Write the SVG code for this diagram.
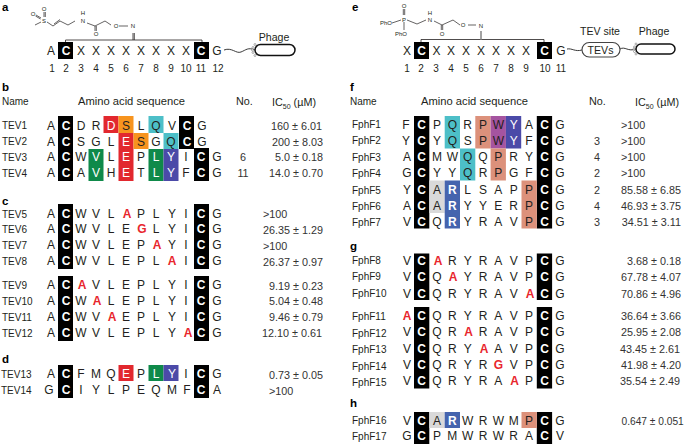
<svg xmlns="http://www.w3.org/2000/svg" width="685" height="444" viewBox="0 0 685 444">
<style>
text{font-family:"Liberation Sans",Arial,sans-serif;fill:#231f20}
.s{font-size:12px;text-anchor:middle}
.w{fill:#fff;font-weight:bold}
.wn{fill:#fff}
.r{fill:#e8262d;font-weight:bold}
.n{font-size:10px}
.h{font-size:10.8px}
.aa{font-size:11.2px}
.num{font-size:10px;text-anchor:middle}
.v{font-size:10.8px;text-anchor:end;fill:#333}
.vl{font-size:10.8px;fill:#333}
.no{font-size:10.8px;text-anchor:middle;fill:#333}
.p{font-size:11.5px;font-weight:bold;fill:#000}
.c{font-size:6px;text-anchor:middle}
.t{font-size:10.6px;text-anchor:middle}
.k{fill:#000}.red{fill:#e2282e}.org{fill:#f7941e}.cya{fill:#4dbfc8}.grn{fill:#0f8a4a}.blu{fill:#4b4aa8}.rb{fill:#4564ae}.sal{fill:#dc917b}.pur{fill:#a554a0}.gry{fill:#d9d9d9}
.l{fill:none;stroke:#231f20;stroke-width:.7}
.br{fill:none;stroke:#231f20;stroke-width:.8}
.cap{fill:#fff;stroke:#111;stroke-width:1.5}
.sq{fill:none;stroke:#222;stroke-width:.9}
.dot{fill:#fff;stroke:#777;stroke-width:.6}
</style>

<g id="connectors">
<path class="br" d="M65.500 42V40H202V42M133 40V33M134.300 40V33"/>
<path class="sq" d="M224 50C232 47 236 54 241 52S248 47 255 50"/>
<path class="br" d="M421 42V39.500H544V42"/>
<path d="M481 39.500V31" fill="none" stroke="#999" stroke-width="1.800"/>
<path class="sq" d="M567 49C572 48 575 52 582 50"/>
<path class="sq" d="M620 49C625 46 628 52 636 49"/>
</g>

<g id="panel-a">
<text class="p" x="2" y="10.500">a</text>
<g id="chem-a">
<path class="l" d="M35 25L41 22M36 15L41 18M35.500 16L40.500 19M44 12V17M45.300 12V17M47 22L53 26L60 21L68 25L75 21M87 23L95 26L105 21L111 25M95 26V31M96.300 26V31M119 26H128M54 24L60 19.500"/>
<text class="c" x="33" y="16">O</text><text class="c" x="44" y="10.500">O</text><text class="c" x="44" y="23">S</text>
<text class="c" x="83" y="15">H</text><text class="c" x="83" y="23">N</text><text class="c" x="96" y="36">O</text><text class="c" x="116" y="28">O</text><text class="c" x="133" y="28">N</text>
</g>
<rect class="k" x="58" y="42" width="15" height="17"/><rect class="k" x="194" y="42" width="15" height="17"/>
<text class="s" x="51 66 81 96 111 126 141 156 171 186 201 217" y="55">A<tspan class="w">C</tspan>XXXXXXXX<tspan class="w">C</tspan>G</text>
<g><text class="num" x="52" y="71.500">1</text><text class="num" x="66" y="71.500">2</text><text class="num" x="81" y="71.500">3</text><text class="num" x="96" y="71.500">4</text><text class="num" x="111" y="71.500">5</text><text class="num" x="126" y="71.500">6</text><text class="num" x="141" y="71.500">7</text><text class="num" x="156" y="71.500">8</text><text class="num" x="171" y="71.500">9</text><text class="num" x="186" y="71.500">10</text><text class="num" x="201" y="71.500">11</text><text class="num" x="218" y="71.500">12</text></g>
<g id="phage-a">
<rect class="cap" x="255" y="44.500" width="40" height="11" rx="5.500"/>
<circle class="dot" cx="255" cy="44.500" r="1"/><circle class="dot" cx="253" cy="47.500" r="1"/><circle class="dot" cx="252.500" cy="50" r="1"/><circle class="dot" cx="253" cy="52.500" r="1"/><circle class="dot" cx="255" cy="55.500" r="1"/>
<text class="t" x="274" y="41">Phage</text>
</g>
</g>

<g id="panel-b">
<text class="p" x="2" y="91">b</text>
<text class="n" x="2" y="105">Name</text><text class="aa" x="78" y="105">Amino acid sequence</text><text class="h" x="236" y="105">No.</text>
<text class="h" x="272" y="106">IC<tspan font-size="7" dy="2.500">50</tspan><tspan dy="-2.500"> (µM)</tspan></text>
<rect class="k" x="58" y="116" width="15" height="65"/><rect class="k" x="179" y="116" width="15" height="33"/><rect class="k" x="194" y="148" width="15" height="33"/>
<rect class="red" x="103.500" y="116" width="15" height="17"/><rect class="org" x="118.500" y="116" width="15" height="17"/><rect class="cya" x="148.500" y="116" width="15" height="17"/>
<rect class="red" x="118.500" y="133" width="15" height="16"/><rect class="org" x="133.500" y="133" width="15" height="16"/><rect class="cya" x="163.500" y="133" width="15" height="16"/>
<rect class="grn" x="88.500" y="149" width="15" height="32"/><rect class="red" x="118.500" y="149" width="15" height="32"/><rect class="grn" x="148.500" y="149" width="15" height="32"/><rect class="blu" x="163.500" y="149" width="15" height="32"/>
<g id="TEV1"><text class="n" x="2" y="129">TEV1</text><text class="s" x="51 66 81 96 111 126 141 156 172 187 202" y="129.500">A<tspan class="w">C</tspan>DR<tspan class="wn">D</tspan>SLQV<tspan class="w">C</tspan>G</text><text class="v" x="322" y="129.500">160 ± 6.01</text></g>
<g id="TEV2"><text class="n" x="2" y="145">TEV2</text><text class="s" x="51 66 81 96 111 126 141 156 171 187 202" y="145.500">A<tspan class="w">C</tspan>SGL<tspan class="wn">E</tspan>SGQ<tspan class="w">C</tspan>G</text><text class="v" x="323" y="145.500">200 ± 8.03</text></g>
<g id="TEV3"><text class="n" x="2" y="161">TEV3</text><text class="s" x="51 66 81 96 111 126 141 156 171 186 201 217" y="161">A<tspan class="w">C</tspan>W<tspan class="wn">V</tspan>L<tspan class="wn">E</tspan>P<tspan class="wn">LY</tspan>I<tspan class="w">C</tspan>G</text><text class="no" x="243" y="161">6</text><text class="v" x="323" y="161">5.0 ± 0.18</text></g>
<g id="TEV4"><text class="n" x="2" y="177">TEV4</text><text class="s" x="51 66 81 96 111 126 141 156 171 186 201 217" y="177">A<tspan class="w">C</tspan>A<tspan class="wn">V</tspan>H<tspan class="wn">E</tspan>T<tspan class="wn">LY</tspan>F<tspan class="w">C</tspan>G</text><text class="no" x="243" y="177">11</text><text class="v" x="323" y="177">14.0 ± 0.70</text></g>
</g>

<g id="panel-c">
<text class="p" x="2" y="205">c</text>
<rect class="k" x="58" y="204" width="15" height="65"/><rect class="k" x="194" y="204" width="15" height="65"/>
<rect class="k" x="58" y="276" width="15" height="65"/><rect class="k" x="194" y="276" width="15" height="65"/>
<g id="TEV5"><text class="n" x="2" y="217.500">TEV5</text><text class="s" x="51 66 81 96 111 127 141 156 172 186 201 217" y="217.500">A<tspan class="w">C</tspan>WVL<tspan class="r">A</tspan>PLYI<tspan class="w">C</tspan>G</text><text class="vl" x="263" y="217.500">&gt;100</text></g>
<g id="TEV6"><text class="n" x="2" y="233">TEV6</text><text class="s" x="51 66 81 96 111 126 142 156 172 186 201 217" y="233">A<tspan class="w">C</tspan>WVLE<tspan class="r">G</tspan>LYI<tspan class="w">C</tspan>G</text><text class="v" x="323" y="233.500">26.35 ± 1.29</text></g>
<g id="TEV7"><text class="n" x="2" y="249">TEV7</text><text class="s" x="51 66 81 96 111 126 141 157 172 186 201 217" y="249">A<tspan class="w">C</tspan>WVLEP<tspan class="r">A</tspan>YI<tspan class="w">C</tspan>G</text><text class="vl" x="263" y="249.500">&gt;100</text></g>
<g id="TEV8"><text class="n" x="2" y="265">TEV8</text><text class="s" x="51 66 81 96 111 126 141 156 172 186 201 217" y="265">A<tspan class="w">C</tspan>WVLEPL<tspan class="r">A</tspan>I<tspan class="w">C</tspan>G</text><text class="v" x="323" y="265.500">26.37 ± 0.97</text></g>
<g id="TEV9"><text class="n" x="2" y="289">TEV9</text><text class="s" x="51 66 82 96 111 126 141 156 172 186 201 217" y="289">A<tspan class="w">C</tspan><tspan class="r">A</tspan>VLEPLYI<tspan class="w">C</tspan>G</text><text class="v" x="323" y="289.500">9.19 ± 0.23</text></g>
<g id="TEV10"><text class="n" x="2" y="305">TEV10</text><text class="s" x="51 66 81 97 111 126 141 156 172 186 201 217" y="305">A<tspan class="w">C</tspan>W<tspan class="r">A</tspan>LEPLYI<tspan class="w">C</tspan>G</text><text class="v" x="323" y="305">5.04 ± 0.48</text></g>
<g id="TEV11"><text class="n" x="2" y="321">TEV11</text><text class="s" x="51 66 81 96 112 126 141 156 172 186 201 217" y="321">A<tspan class="w">C</tspan>WV<tspan class="r">A</tspan>EPLYI<tspan class="w">C</tspan>G</text><text class="v" x="323" y="321">9.46 ± 0.79</text></g>
<g id="TEV12"><text class="n" x="2" y="337">TEV12</text><text class="s" x="51 66 81 96 111 126 141 156 172 188 201 217" y="337">A<tspan class="w">C</tspan>WVLEPLY<tspan class="r">A</tspan><tspan class="w">C</tspan>G</text><text class="v" x="322" y="337">12.10 ± 0.61</text></g>
</g>

<g id="panel-d">
<text class="p" x="2" y="363">d</text>
<rect class="k" x="58" y="365" width="15" height="33"/><rect class="k" x="194" y="365" width="15" height="33"/>
<rect class="red" x="118.500" y="365" width="15" height="16"/><rect class="grn" x="148.500" y="365" width="15" height="16"/><rect class="blu" x="163.500" y="365" width="15" height="16"/>
<g id="TEV13"><text class="n" x="1" y="378">TEV13</text><text class="s" x="51 66 81 96 111 126 141 156 172 186 201 217" y="378">A<tspan class="w">C</tspan>FMQ<tspan class="wn">E</tspan>P<tspan class="wn">LY</tspan>I<tspan class="w">C</tspan>G</text><text class="v" x="323" y="378.500">0.73 ± 0.05</text></g>
<g id="TEV14"><text class="n" x="1" y="394">TEV14</text><text class="s" x="49 66 81 96 111 126 141 156 172 187 201 217" y="394">G<tspan class="w">C</tspan>IYLPEQMF<tspan class="w">C</tspan>A</text><text class="vl" x="269" y="394.500">&gt;100</text></g>
</g>

<g id="panel-e">
<text class="p" x="352" y="10.500">e</text>
<g id="chem-e">
<path class="l" d="M403.300 9V15M404.700 9V15M404 22V30M392 23L401 20M407 20L417 24L426 20M434 21L442 25L453 20L460 25M441.300 25V30M442.700 25V30M468 25H476"/>
<text class="c" x="404" y="8">O</text><text class="c" x="404" y="21.500">P</text><text class="c" x="386" y="25">PhO</text><text class="c" x="401" y="35.500">PhO</text>
<text class="c" x="430" y="15">H</text><text class="c" x="430" y="21.500">N</text><text class="c" x="442" y="35.500">O</text><text class="c" x="463" y="27">O</text><text class="c" x="481" y="28">N</text>
</g>
<rect class="k" x="414" y="42" width="15" height="17"/><rect class="k" x="537" y="42" width="15" height="17"/>
<text class="s" x="407 421.500 436.500 451 466 481 496 511 526 544.500 561" y="54.500">X<tspan class="w">C</tspan>XXXXXXX<tspan class="w">C</tspan>G</text>
<text class="num" x="407" y="71.500">1</text><text class="num" x="421" y="71.500">2</text><text class="num" x="436" y="71.500">3</text><text class="num" x="451" y="71.500">4</text><text class="num" x="466" y="71.500">5</text><text class="num" x="481" y="71.500">6</text><text class="num" x="496" y="71.500">7</text><text class="num" x="511" y="71.500">8</text><text class="num" x="526" y="71.500">9</text><text class="num" x="545" y="71.500">10</text><text class="num" x="561" y="71.500">11</text>
<g id="tev-site">
<rect x="582" y="42.500" width="38" height="14.500" rx="7.250" fill="#fff" stroke="#444" stroke-width="1.100"/>
<text class="t" x="600.500" y="53.500">TEVs</text>
<text class="t" x="600" y="35">TEV site</text>
</g>
<g id="phage-e">
<rect class="cap" x="636" y="44" width="39" height="10" rx="5"/>
<circle class="dot" cx="636" cy="44" r="1"/><circle class="dot" cx="634.500" cy="47" r="1"/><circle class="dot" cx="634" cy="49" r="1"/><circle class="dot" cx="634.500" cy="51.500" r="1"/><circle class="dot" cx="636" cy="54" r="1"/>
<text class="t" x="654" y="35">Phage</text>
</g>
</g>

<g id="panel-f">
<text class="p" x="350" y="91">f</text>
<text class="n" x="350" y="105">Name</text><text class="aa" x="421" y="105">Amino acid sequence</text><text class="h" x="589" y="105">No.</text>
<text class="h" x="635" y="106">IC<tspan font-size="7" dy="2.500">50</tspan><tspan dy="-2.500"> (µM)</tspan></text>
<rect class="k" x="414" y="116" width="15.300" height="112.500"/><rect class="k" x="536.800" y="116" width="15.300" height="112.500"/>
<rect class="cya" x="444.700" y="116" width="15.300" height="32.500"/><rect class="sal" x="475.300" y="116" width="15.300" height="32.500"/><rect class="pur" x="490.600" y="116" width="15.300" height="32.500"/><rect class="blu" x="505.900" y="116" width="15.300" height="32.500"/>
<rect class="cya" x="460" y="148.500" width="15.300" height="32"/><rect class="sal" x="490.600" y="148.500" width="15.300" height="32"/>
<rect class="gry" x="429.300" y="180.500" width="15.400" height="32.500"/><rect class="rb" x="444.700" y="180.500" width="15.300" height="48"/><rect class="sal" x="521.500" y="180.500" width="15.300" height="48"/>
<g id="FphF1"><text class="n" x="352" y="128">FphF1</text><text class="s" x="406 421.700 437 452.300 467.700 483 498.300 513.700 529 544.500 560" y="128.500">F<tspan class="w">C</tspan>PQRPW<tspan class="wn">Y</tspan>A<tspan class="w">C</tspan>G</text><text class="vl" x="621" y="128.500">&gt;100</text></g>
<g id="FphF2"><text class="n" x="352" y="144">FphF2</text><text class="s" x="406 421.700 437 452.300 467.700 483 498.300 513.700 529 544.500 560" y="144.500">Y<tspan class="w">C</tspan>YQSPW<tspan class="wn">Y</tspan>F<tspan class="w">C</tspan>G</text><text class="no" x="597" y="144.500">3</text><text class="vl" x="621" y="144.500">&gt;100</text></g>
<g id="FphF3"><text class="n" x="352" y="160.500">FphF3</text><text class="s" x="407 421.700 437 452.300 467.700 483 498.300 513.700 529 544.500 560" y="160.500">A<tspan class="w">C</tspan>MWQQPRY<tspan class="w">C</tspan>G</text><text class="no" x="597" y="160.500">4</text><text class="vl" x="621" y="160.500">&gt;100</text></g>
<g id="FphF4"><text class="n" x="352" y="177">FphF4</text><text class="s" x="407 421.700 437 452.300 467.700 483 498.300 513.700 529 544.500 560" y="177">G<tspan class="w">C</tspan>YYQRPGF<tspan class="w">C</tspan>G</text><text class="no" x="597" y="176.500">2</text><text class="vl" x="621" y="176.500">&gt;100</text></g>
<g id="FphF5"><text class="n" x="352" y="193.500">FphF5</text><text class="s" x="407 421.700 437 452.300 467.700 483 498.300 513.700 529 544.500 560" y="193.500">Y<tspan class="w">C</tspan>A<tspan class="w">R</tspan>LSAPP<tspan class="w">C</tspan>G</text><text class="no" x="597" y="193.500">2</text><text class="v" x="681" y="193.500">85.58 ± 6.85</text></g>
<g id="FphF6"><text class="n" x="352" y="209.500">FphF6</text><text class="s" x="407 421.700 437 452.300 467.700 483 498.300 513.700 529 544.500 560" y="209.500">A<tspan class="w">C</tspan>A<tspan class="w">R</tspan>YYERP<tspan class="w">C</tspan>G</text><text class="no" x="597" y="209.500">4</text><text class="v" x="681" y="209.500">46.93 ± 3.75</text></g>
<g id="FphF7"><text class="n" x="352" y="226">FphF7</text><text class="s" x="407 421.700 437 452.300 467.700 483 498.300 513.700 529 544.500 560" y="225.500">V<tspan class="w">C</tspan>Q<tspan class="w">R</tspan>YRAVP<tspan class="w">C</tspan>G</text><text class="no" x="597" y="225.500">3</text><text class="v" x="681" y="225.500">34.51 ± 3.11</text></g>
</g>

<g id="panel-g">
<text class="p" x="350" y="249.500">g</text>
<rect class="k" x="414" y="253.500" width="15.300" height="46.500"/><rect class="k" x="536.800" y="253.500" width="15.300" height="46.500"/>
<rect class="k" x="414" y="307" width="15.300" height="81.500"/><rect class="k" x="536.800" y="307" width="15.300" height="81.500"/>
<g id="FphF8"><text class="n" x="352" y="264">FphF8</text><text class="s" x="407 421.700 438 452.300 467.700 483 498.300 513.700 529 544.500 560" y="265">V<tspan class="w">C</tspan><tspan class="r">A</tspan>RYRAVP<tspan class="w">C</tspan>G</text><text class="v" x="681" y="265">3.68 ± 0.18</text></g>
<g id="FphF9"><text class="n" x="352" y="280">FphF9</text><text class="s" x="407 421.700 437 453 467.700 483 498.300 513.700 529 544.500 560" y="281">V<tspan class="w">C</tspan>Q<tspan class="r">A</tspan>YRAVP<tspan class="w">C</tspan>G</text><text class="v" x="681" y="281">67.78 ± 4.07</text></g>
<g id="FphF10"><text class="n" x="352" y="297">FphF10</text><text class="s" x="407 421.700 437 452.300 467.700 483 498.300 513.700 530 544.500 560" y="298">V<tspan class="w">C</tspan>QRYRAV<tspan class="r">A</tspan><tspan class="w">C</tspan>G</text><text class="v" x="681" y="298">70.86 ± 4.96</text></g>
<g id="FphF11"><text class="n" x="352" y="320">FphF11</text><text class="s" x="407 421.700 437 452.300 467.700 483 498.300 513.700 529 544.500 560" y="320"><tspan class="r">A</tspan><tspan class="w">C</tspan>QRYRAVP<tspan class="w">C</tspan>G</text><text class="v" x="681" y="320">36.64 ± 3.66</text></g>
<g id="FphF12"><text class="n" x="352" y="336.500">FphF12</text><text class="s" x="407 421.700 437 452.300 468.500 483 498.300 513.700 529 544.500 560" y="336">V<tspan class="w">C</tspan>QR<tspan class="r">A</tspan>RAVP<tspan class="w">C</tspan>G</text><text class="v" x="681" y="336">25.95 ± 2.08</text></g>
<g id="FphF13"><text class="n" x="352" y="353">FphF13</text><text class="s" x="407 421.700 437 452.300 467.700 484 498.300 513.700 529 544.500 560" y="352.500">V<tspan class="w">C</tspan>QRY<tspan class="r">A</tspan>AVP<tspan class="w">C</tspan>G</text><text class="v" x="680" y="352.500">43.45 ± 2.61</text></g>
<g id="FphF14"><text class="n" x="352" y="370">FphF14</text><text class="s" x="407 421.700 437 452.300 467.700 483 498.300 513.700 529 544.500 560" y="368.500">V<tspan class="w">C</tspan>QRYR<tspan class="r">G</tspan>VP<tspan class="w">C</tspan>G</text><text class="v" x="681" y="368.500">41.98 ± 4.20</text></g>
<g id="FphF15"><text class="n" x="352" y="386">FphF15</text><text class="s" x="407 421.700 437 452.300 467.700 483 498.300 514.500 529 544.500 560" y="384.500">V<tspan class="w">C</tspan>QRYRA<tspan class="r">A</tspan>P<tspan class="w">C</tspan>G</text><text class="v" x="680" y="384.500">35.54 ± 2.49</text></g>
</g>

<g id="panel-h">
<text class="p" x="350" y="407">h</text>
<rect class="k" x="414" y="412" width="15.300" height="32"/><rect class="k" x="536.800" y="412" width="15.300" height="32"/>
<rect class="gry" x="429.300" y="412" width="15.400" height="16"/><rect class="rb" x="444.700" y="412" width="15.300" height="16"/><rect class="sal" x="521.500" y="412" width="15.300" height="16"/>
<g id="FphF16"><text class="n" x="352" y="424">FphF16</text><text class="s" x="407 421.700 437 452.300 467.700 483 498.300 513.700 529 544.500 560" y="424.500">V<tspan class="w">C</tspan>A<tspan class="w">R</tspan>WRWMP<tspan class="w">C</tspan>G</text><text class="vl" style="font-size:10.2px" x="621.500" y="424.500">0.647 ± 0.051</text></g>
<g id="FphF17"><text class="n" x="352" y="440">FphF17</text><text class="s" x="407 421.700 437 452.300 467.700 483 498.300 513.700 529 544.500 560" y="440">G<tspan class="w">C</tspan>PMWRWRA<tspan class="w">C</tspan>V</text></g>
</g>
</svg>
